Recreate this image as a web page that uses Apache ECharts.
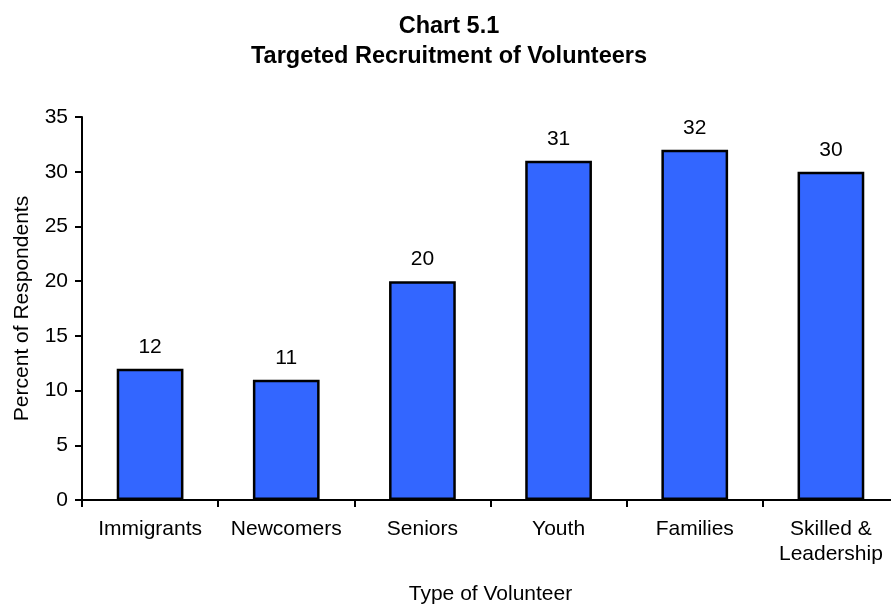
<!DOCTYPE html>
<html>
<head>
<meta charset="utf-8">
<script src="https://cdn.jsdelivr.net/npm/echarts@6/dist/echarts.min.js"></script>
<style>
  html, body { margin: 0; padding: 0; background: #ffffff; }
  #chart { width: 891px; height: 607px; }
</style>
</head>
<body>
<div id="chart"></div>
<script>
// Targeted recruitment by volunteer type (percent of respondents)
const categories = ['Immigrants', 'Newcomers', 'Seniors', 'Youth', 'Families', 'Skilled &\nLeadership'];
const percentValues = [12, 11, 20, 31, 32, 30];
const yTicks = { min: 0, max: 35, interval: 5 };

const FONT = '"Liberation Sans", Arial, Helvetica, sans-serif';

const chart = echarts.init(document.getElementById('chart'), null, { renderer: 'canvas' });

chart.setOption({
  backgroundColor: '#ffffff',
  animation: false,
  title: {
    text: 'Chart 5.1\nTargeted Recruitment of Volunteers',
    left: 444,
    top: 7,
    textAlign: 'center',
    textStyle: {
      fontFamily: FONT,
      fontSize: 23.5,
      fontWeight: 'bold',
      color: '#000000',
      lineHeight: 30
    }
  },
  grid: {
    left: 82,
    right: -8,
    top: 117,
    bottom: 107,
    containLabel: false,
    outerBoundsMode: 'none'
  },
  xAxis: {
    type: 'category',
    data: categories,
    boundaryGap: true,
    name: 'Type of Volunteer',
    nameLocation: 'middle',
    nameGap: 84,
    nameTextStyle: { fontFamily: FONT, fontSize: 21, color: '#000000' },
    axisLine: { show: true, lineStyle: { color: '#000000', width: 2 } },
    axisTick: { show: true, length: 7, alignWithLabel: false, lineStyle: { color: '#000000', width: 2 } },
    axisLabel: {
      fontFamily: FONT,
      fontSize: 21,
      lineHeight: 25,
      color: '#000000',
      margin: 17,
      interval: 0
    },
    splitLine: { show: false }
  },
  yAxis: {
    type: 'value',
    min: yTicks.min,
    max: yTicks.max,
    interval: yTicks.interval,
    name: 'Percent of Respondents',
    nameLocation: 'middle',
    nameGap: 49,
    nameRotate: 90,
    nameTextStyle: { fontFamily: FONT, fontSize: 21, color: '#000000' },
    axisLine: { show: true, lineStyle: { color: '#000000', width: 2 } },
    axisTick: { show: true, length: 7, lineStyle: { color: '#000000', width: 2 } },
    axisLabel: { fontFamily: FONT, fontSize: 21, color: '#000000', margin: 14 },
    splitLine: { show: false }
  },
  series: [{
    type: 'bar',
    data: percentValues,
    barWidth: '49%',
    itemStyle: { color: '#3366FF', borderColor: '#000000', borderWidth: 2.5 },
    label: {
      show: true,
      position: 'top',
      distance: 11,
      fontFamily: FONT,
      fontSize: 21,
      color: '#000000'
    }
  }]
});
</script>
</body>
</html>
